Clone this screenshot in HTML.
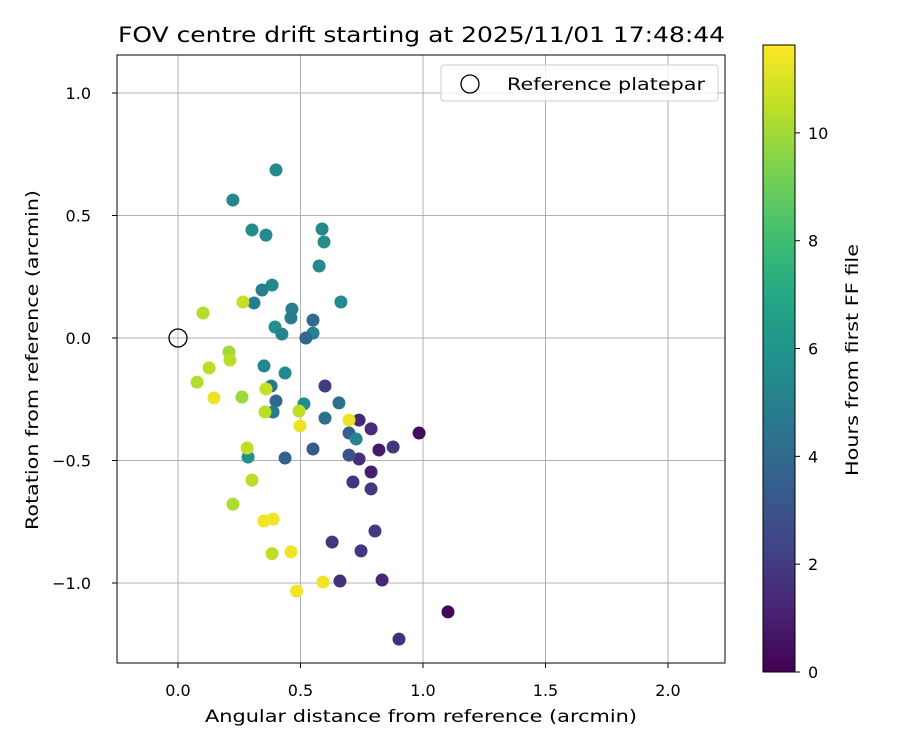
<!DOCTYPE html>
<html><head><meta charset="utf-8"><style>
body{margin:0;background:#fff;}
svg text{font-family:"DejaVu Sans","Liberation Sans",sans-serif;fill:#000;}
</style></head><body>
<svg id="chart" width="900" height="750">
<defs><linearGradient id="vir" x1="0" y1="1" x2="0" y2="0">
<stop offset="0" stop-color="#440154"/><stop offset="0.1" stop-color="#482475"/><stop offset="0.2" stop-color="#414487"/><stop offset="0.3" stop-color="#355f8d"/><stop offset="0.4" stop-color="#2a788e"/><stop offset="0.5" stop-color="#21918c"/><stop offset="0.6" stop-color="#22a884"/><stop offset="0.7" stop-color="#44bf70"/><stop offset="0.8" stop-color="#7ad151"/><stop offset="0.9" stop-color="#bddf26"/><stop offset="1" stop-color="#fde725"/></linearGradient></defs>
<g id="grid"></g><g id="pts"></g><g id="axes"></g>
</svg>
<script>
const xs=[0.40,0.224,0.302,0.359,0.588,0.596,0.576,0.665,0.384,0.343,0.310,0.396,0.424,0.465,0.461,0.551,0.551,0.522,0.351,0.437,0.380,0.40,0.388,0.514,0.60,0.657,0.60,0.739,0.788,0.698,0.727,0.984,0.820,0.878,0.739,0.698,0.788,0.714,0.788,0.551,0.437,0.804,0.629,0.747,0.661,0.833,1.102,0.902,0.286,
0.102,0.265,0.208,0.212,0.127,0.078,0.147,0.261,0.359,0.355,0.494,0.498,0.698,0.282,0.302,0.224,0.351,0.388,0.384,0.461,0.592,0.484];
const ys=[0.686,0.563,0.441,0.420,0.445,0.392,0.294,0.147,0.216,0.196,0.143,0.045,0.016,0.118,0.082,0.073,0.020,0.000,-0.114,-0.143,-0.196,-0.257,-0.302,-0.269,-0.327,-0.265,-0.196,-0.335,-0.371,-0.388,-0.412,-0.388,-0.457,-0.445,-0.494,-0.478,-0.547,-0.588,-0.616,-0.453,-0.490,-0.788,-0.833,-0.869,-0.992,-0.988,-1.118,-1.229,-0.486,
0.102,0.147,-0.057,-0.090,-0.122,-0.180,-0.245,-0.241,-0.208,-0.302,-0.298,-0.359,-0.335,-0.449,-0.580,-0.678,-0.747,-0.739,-0.880,-0.873,-0.996,-1.033];
const hours=[5.5,5.3,5.6,5.5,5.4,5.6,5.4,5.5,5.3,5.0,4.8,5.7,5.2,4.9,4.8,4.0,5.1,3.8,5.3,5.5,4.6,3.8,4.8,5.5,4.2,4.2,2.0,1.3,1.5,3.6,5.2,0.4,0.8,1.8,1.6,3.0,1.0,1.7,1.9,3.3,3.5,2.0,1.8,1.8,1.6,1.2,0.2,1.6,5.7,
10.3,10.6,10.0,10.4,10.4,10.3,11.3,9.9,10.6,10.4,10.5,11.3,11.3,10.5,10.4,10.2,11.4,11.4,10.5,11.4,11.4,11.4];
const xTicks=[0.0,0.5,1.0,1.5,2.0], yTicks=[1.0,0.5,0.0,-0.5,-1.0], cTicks=[0,2,4,6,8,10];
const L=117,R=725,T=55,B=663;
const sx=v=>178+v*245, sy=v=>338-v*245;
const VMAX=11.63;
const vir=["#440154","#482475","#414487","#355f8d","#2a788e","#21918c","#22a884","#44bf70","#7ad151","#bddf26","#fde725"];
function hex(h){return [1,3,5].map(i=>parseInt(h.substr(i,2),16));}
function col(h){let t=Math.max(0,Math.min(1,h/VMAX))*10;let i=Math.min(9,Math.floor(t)),f=t-i;const a=hex(vir[i]),b=hex(vir[i+1]);return "rgb("+a.map((v,k)=>Math.round(v+(b[k]-v)*f)).join(",")+")";}
const NS="http://www.w3.org/2000/svg";
function mk(tag,at,parent,txt){const e=document.createElementNS(NS,tag);for(const k in at)e.setAttribute(k,at[k]);if(txt!==undefined)e.textContent=txt;parent.appendChild(e);return e;}
const G=document.getElementById('grid'),P=document.getElementById('pts'),A=document.getElementById('axes');
xTicks.forEach(v=>{const x=sx(v);
 const g=mk('line',{x1:x,x2:x,y1:T,y2:B,stroke:'#b0b0b0','stroke-width':1},G);
 
 mk('line',{x1:x,x2:x,y1:B,y2:B+5,stroke:'#000'},A);
 const t=mk('text',{x:x,y:B+33,'text-anchor':'middle','font-size':16},A,v.toFixed(1));
 });
yTicks.forEach(v=>{const y=sy(v);
 const g=mk('line',{x1:L,x2:R,y1:y,y2:y,stroke:'#b0b0b0','stroke-width':1},G);
 
 mk('line',{x1:L-5,x2:L,y1:y,y2:y,stroke:'#000'},A);
 const t=mk('text',{x:L-26,y:y+6,'text-anchor':'end','font-size':16},A,(v<0?'\u2212'+(-v).toFixed(1):v.toFixed(1)));
 });
xs.forEach((x,i)=>{const c=mk('circle',{cx:sx(x),cy:sy(ys[i]),r:6.5,fill:col(hours[i])},P);
 });
const ref=mk('circle',{cx:sx(0),cy:sy(0),r:9,fill:'none',stroke:'#000','stroke-width':1.3},P);

const fr=mk('rect',{x:L,y:T,width:R-L,height:B-T,fill:'none',stroke:'#000','stroke-width':1},A);

const tt=mk('text',{x:118,y:42,'font-size':21,textLength:607,lengthAdjust:'spacingAndGlyphs'},A,'FOV centre drift starting at 2025/11/01 17:48:44');

const xl=mk('text',{x:205,y:722,'font-size':17,textLength:432,lengthAdjust:'spacingAndGlyphs'},A,'Angular distance from reference (arcmin)');

const yl=mk('text',{x:-530,y:38,'font-size':17,textLength:340,lengthAdjust:'spacingAndGlyphs',transform:'rotate(-90)'},A,'Rotation from reference (arcmin)');

const lg=mk('g',{},A);

mk('rect',{x:441,y:65,width:277,height:36,rx:3,fill:'#fff','fill-opacity':0.8,stroke:'#ccc'},lg);
mk('circle',{cx:470,cy:84,r:9,fill:'none',stroke:'#000','stroke-width':1.3},lg);
const le=mk('text',{x:507,y:90,'font-size':17,textLength:198,lengthAdjust:'spacingAndGlyphs'},lg,'Reference platepar');

const cb=mk('rect',{x:763,y:45,width:32,height:627,fill:'url(#vir)',stroke:'#000','stroke-width':1},A);

cTicks.forEach(v=>{const y=672-v/VMAX*627;
 mk('line',{x1:795,x2:800,y1:y,y2:y,stroke:'#000'},A);
 const t=mk('text',{x:808,y:y+6,'font-size':16},A,String(v));
 });
const cl=mk('text',{x:-476,y:858,'font-size':17,textLength:232,lengthAdjust:'spacingAndGlyphs',transform:'rotate(-90)'},A,'Hours from first FF file');

</script>
</body></html>
